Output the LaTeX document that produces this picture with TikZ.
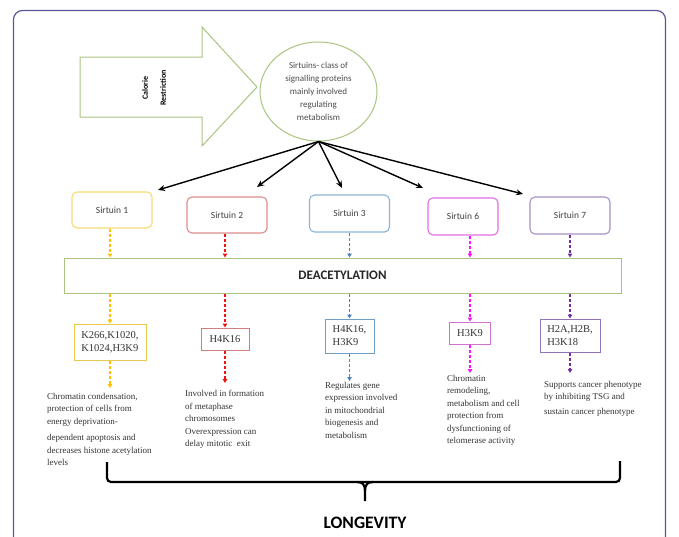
\documentclass[tikz,border=0pt]{standalone}
\usepackage{fontspec}
\setmainfont{Liberation Serif}
\setsansfont{Carlito}
\usepackage{xcolor}
\usepackage{tikz}
\usetikzlibrary{shapes.geometric,arrows.meta}

\definecolor{frameblue}{HTML}{5B559E}
\definecolor{leafgreen}{HTML}{A9C47F}
\definecolor{sonebox}{HTML}{F7DA72}
\definecolor{stwobox}{HTML}{DC8C8C}
\definecolor{sthreebox}{HTML}{8DB3D6}
\definecolor{ssixbox}{HTML}{E46DE4}
\definecolor{ssevenbox}{HTML}{A690C6}
\definecolor{kone}{HTML}{E8C84E}
\definecolor{ktwo}{HTML}{CF7F80}
\definecolor{kthree}{HTML}{6E9EC6}
\definecolor{ksix}{HTML}{D072D0}
\definecolor{kseven}{HTML}{9274B4}
\definecolor{lineone}{HTML}{FFC000}
\definecolor{linetwo}{HTML}{F01010}
\definecolor{linethree}{HTML}{4F81BD}
\definecolor{linesix}{HTML}{FF10FF}
\definecolor{lineseven}{HTML}{7030A0}

\begin{document}
\begin{tikzpicture}[x=1pt,y=-1pt,
  sirtbox/.style={draw, rounded corners=5pt, line width=1.1pt, minimum width=80, minimum height=36,
    font=\sffamily\fontsize{9.5}{11}\selectfont, text=black!75},
  markbox/.style={draw, line width=1pt, align=left, inner sep=2pt,
    font=\fontsize{10.5}{13}\selectfont, text=black!80},
  descr/.style={anchor=north west, inner sep=0pt, align=left,
    font=\fontsize{9}{12.5}\selectfont, text=black!80},
  dasharrow/.style={line width=1.2pt, dash pattern=on 3pt off 2pt, -{Triangle[length=4pt,width=4.5pt]}},
  bigarrow/.style={line width=1.4pt, -{Stealth[length=7pt,width=6pt]}}]
\useasboundingbox (0,0) rectangle (679,536);
\draw[frameblue, line width=1.2pt, rounded corners=9pt] (13.5,10.5) rectangle (665.5,580);

\draw[leafgreen, line width=1pt] (80,57) -- (202,57) -- (202,27) -- (257,87) -- (202,146) -- (202,117) -- (80,117) -- cycle;
\node[rotate=90, align=center, font=\sffamily\bfseries\fontsize{8}{18}\selectfont] (calorie) at (154,88) {Calorie\\Restriction};

\node[ellipse, draw=leafgreen, line width=1pt, minimum width=117, minimum height=99, inner sep=0pt, align=center,
  font=\sffamily\fontsize{9}{13}\selectfont, text=black!70] (sirt) at (318.5,91.5)
  {Sirtuins- class of\\signalling proteins\\mainly involved\\regulating\\metabolism};

\node[sirtbox, draw=sonebox] (s1) at (112,210) {Sirtuin 1};
\node[sirtbox, draw=stwobox] (s2) at (227,215) {Sirtuin 2};
\node[sirtbox, draw=sthreebox, minimum height=37] (s3) at (349.5,213.5) {Sirtuin 3};
\node[sirtbox, draw=ssixbox, minimum width=70, minimum height=37] (s6) at (463,216.5) {Sirtuin 6};
\node[sirtbox, draw=ssevenbox, minimum height=37] (s7) at (570,215.5) {Sirtuin 7};

\coordinate (t1) at (158,190);
\coordinate (t2) at (257,187);
\coordinate (t3) at (342,188);
\coordinate (t6) at (423,188);
\coordinate (t7) at (523,194);
\draw[bigarrow] (sirt.south) -- (t1);
\draw[bigarrow] (sirt.south) -- (t2);
\draw[bigarrow] (sirt.south) -- (t3);
\draw[bigarrow] (sirt.south) -- (t6);
\draw[bigarrow] (sirt.south) -- (t7);

\node[draw=leafgreen, line width=1pt, minimum width=557, minimum height=35,
  font=\sffamily\bfseries\fontsize{13}{15}\selectfont, text=black!85] (deac) at (342.5,275.5) {DEACETYLATION};

\node[markbox, draw=kone, minimum width=72, minimum height=36] (k1) at (110,342) {K266,K1020,\\K1024,H3K9};
\node[markbox, draw=ktwo, minimum width=48, minimum height=22] (k2) at (225,339) {H4K16};
\node[markbox, draw=kthree, minimum width=49, minimum height=34] (k3) at (349.5,336) {H4K16,\\H3K9};
\node[markbox, draw=ksix, minimum width=41, minimum height=22] (k6) at (470,333) {H3K9};
\node[markbox, draw=kseven, minimum width=60, minimum height=33] (k7) at (570,335.5) {H2A,H2B,\\H3K18};

\draw[dasharrow, lineone] (k1 |- s1.south) -- (k1 |- deac.north);
\draw[dasharrow, linetwo] (k2 |- s2.south) -- (k2 |- deac.north);
\draw[dasharrow, linethree] (k3 |- s3.south) -- (k3 |- deac.north);
\draw[dasharrow, linesix] (k6 |- s6.south) -- (k6 |- deac.north);
\draw[dasharrow, lineseven] (k7 |- s7.south) -- (k7 |- deac.north);

\draw[dasharrow, lineone] (k1 |- deac.south) -- (k1.north);
\draw[dasharrow, linetwo] (k2 |- deac.south) -- (k2.north);
\draw[dasharrow, linethree] (k3 |- deac.south) -- (k3.north);
\draw[dasharrow, linesix] (k6 |- deac.south) -- (k6.north);
\draw[dasharrow, lineseven] (k7 |- deac.south) -- (k7.north);

\node[descr] (d1) at (47,393) {Chromatin condensation,\\protection of cells from\\energy deprivation-\\[4pt]dependent apoptosis and\\decreases histone acetylation\\levels};
\node[descr] (d2) at (185,390) {Involved in formation\\of metaphase\\chromosomes\\Overexpression can\\delay mitotic\ \ exit};
\node[descr] (d3) at (325,382) {Regulates gene\\expression involved\\in mitochondrial\\biogenesis and\\metabolism};
\node[descr] (d6) at (447,375) {Chromatin\\remodeling,\\metabolism and cell\\protection from\\dysfunctioning of\\telomerase activity};
\node[descr] (d7) at (544,381) {Supports cancer phenotype\\by inhibiting TSG and\\[2.5pt]sustain cancer phenotype};

\draw[dasharrow, lineone, shorten >=5pt] (k1.south) -- (k1 |- d1.north);
\draw[dasharrow, linetwo, shorten >=7pt] (k2.south) -- (k2 |- d2.north);
\draw[dasharrow, linethree, shorten >=1pt] (k3.south) -- (k3 |- d3.north);
\draw[dasharrow, linesix, shorten >=2pt] (k6.south) -- (k6 |- d6.north);
\draw[dasharrow, lineseven, shorten >=8pt] (k7.south) -- (k7 |- d7.north);

\draw[line width=2.2pt, rounded corners=4pt] (107,462) -- (107,482) -- (620,482) -- (620,461);
\draw[line width=2.2pt] (357,482) .. controls (363,482) and (365,485) .. (365,491) -- (365,501);
\draw[line width=2.2pt] (373,482) .. controls (367,482) and (365,485) .. (365,491);

\node[font=\sffamily\bfseries\fontsize{17.5}{20}\selectfont] (longevity) at (365,523) {LONGEVITY};
\end{tikzpicture}
\end{document}
